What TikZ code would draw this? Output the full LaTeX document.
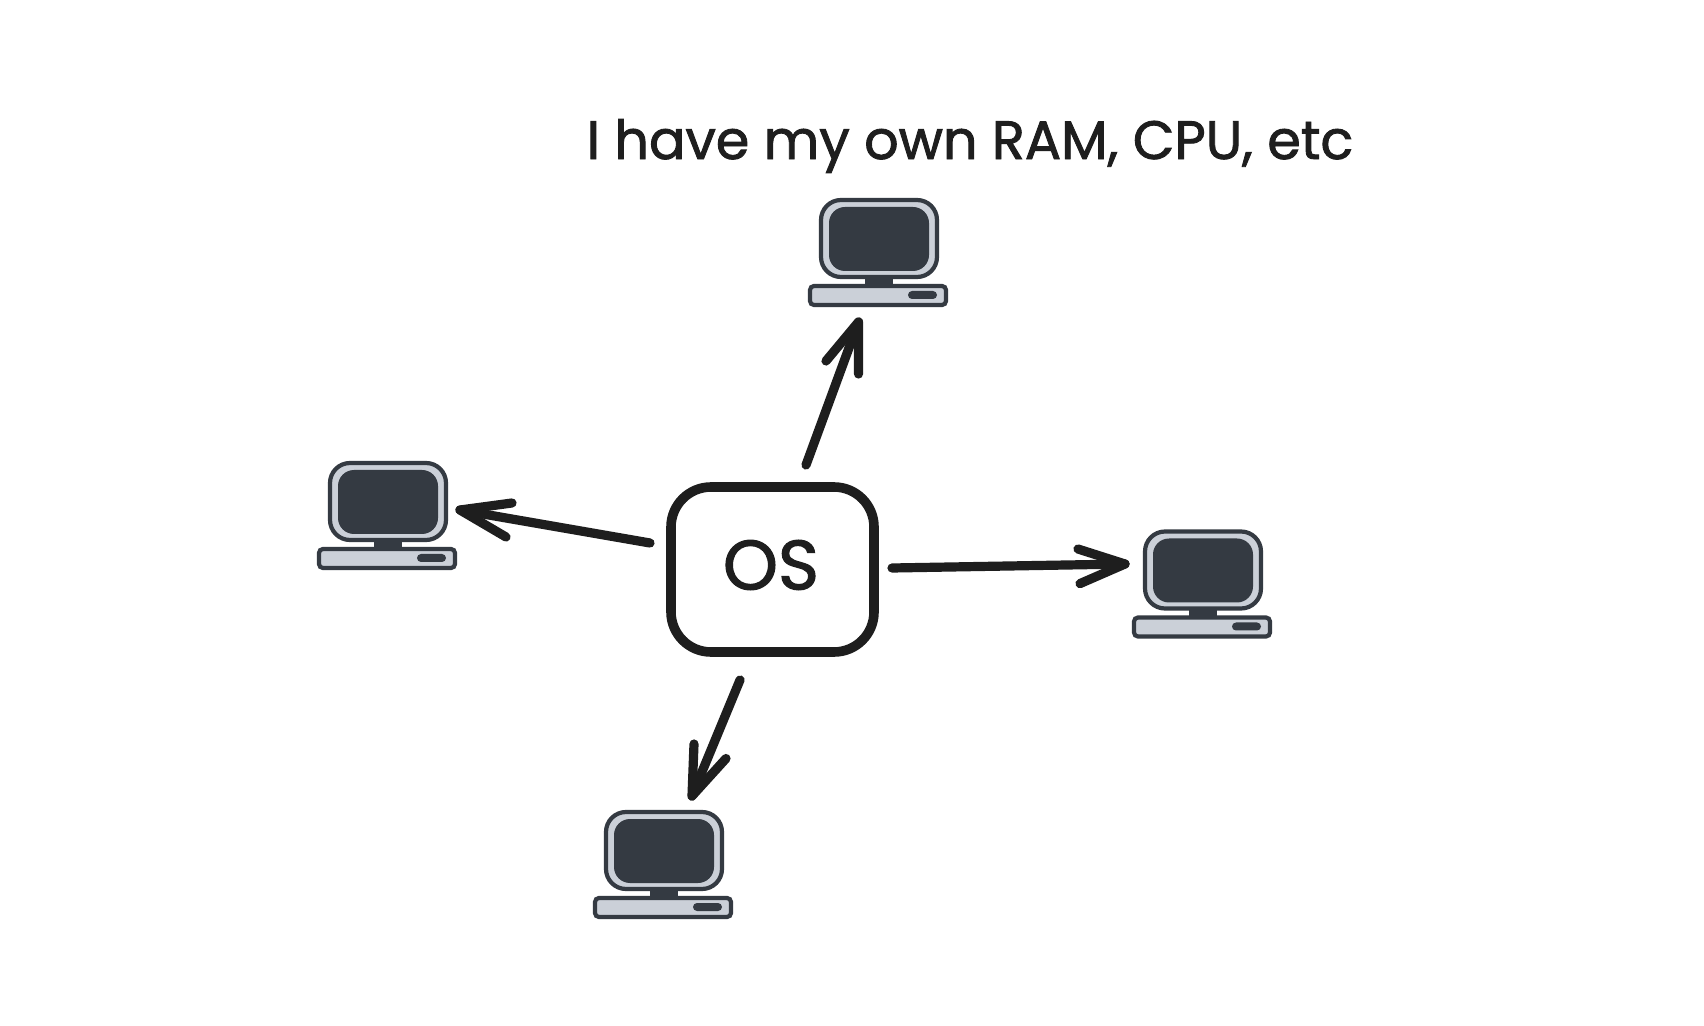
\documentclass[tikz,border=0pt]{standalone}
\usepackage{fontspec}
\setmainfont{Poppins}[FakeBold=1.6]
\definecolor{ink}{HTML}{1E1E1E}
\definecolor{slate}{HTML}{343A42}
\definecolor{silver}{HTML}{CBD0D8}
\tikzset{
  unit/.style={x=0.5pt,y=-0.5pt},
  shell/.style={draw=slate,line width=2.1pt,fill=silver,inner sep=0pt,rounded corners=10pt,minimum width=58pt,minimum height=38.5pt},
  glass/.style={fill=slate,inner sep=0pt,rounded corners=8pt,minimum width=50pt,minimum height=32pt},
  stand/.style={fill=slate,inner sep=0pt,minimum width=14pt,minimum height=4pt},
  deck/.style={draw=slate,line width=2.1pt,fill=silver,inner sep=0pt,rounded corners=2pt,minimum width=68pt,minimum height=9.5pt},
  drive/.style={fill=slate,inner sep=0pt,rounded corners=2pt,minimum width=14.5pt,minimum height=4pt},
  kernel/.style={draw=ink,line width=4.8pt,fill=white,rounded corners=20pt,minimum width=101.5pt,minimum height=82.5pt,inner sep=0pt},
  link/.style={draw=ink,line width=4.6pt,line cap=round,line join=round},
  caption/.style={text=ink,inner sep=0pt},
  computer/.pic={
    \node[stand] (-neck) at (0,43.5) {};
    \node[shell] (-monitor) at (0,0) {};
    \node[glass] (-screen) at (0,0.5) {};
    \node[deck] (-base) at (-1,57) {};
    \node[drive] (-slot) at (43.5,56.5) {};
  }
}
\begin{document}
\begin{tikzpicture}[unit]
  \useasboundingbox[fill=white] (0,0) rectangle (1704,1026);

  % central operating system box
  \node[kernel] (os) at (772.5,569.5) {};
  \node[caption,font=\fontsize{35}{35}\selectfont] (oslabel) at (771,565) {OS};

  % the four machines
  \pic (top) at (879,238.5) {computer};
  \pic (left) at (388,501.5) {computer};
  \pic (right) at (1203,570) {computer};
  \pic (bottom) at (664,850.5) {computer};

  \node[caption,font=\fontsize{27}{27}\selectfont] (note) at (970,146) {I have my own RAM, CPU, etc};

  % connector ends and arrowhead barbs
  \coordinate (topTail) at (806,465);
  \coordinate (topHead) at (858.5,322);
  \coordinate (topBarbA) at (826,361);
  \coordinate (topBarbB) at (858.5,374);
  \coordinate (leftTail) at (650,543);
  \coordinate (leftHead) at (460,510);
  \coordinate (leftBarbA) at (512,503);
  \coordinate (leftBarbB) at (506,537);
  \coordinate (rightTail) at (892,568);
  \coordinate (rightHead) at (1125,564);
  \coordinate (rightBarbA) at (1078,549);
  \coordinate (rightBarbB) at (1080,583.6);
  \coordinate (bottomTail) at (740,680);
  \coordinate (bottomHead) at (692,796);
  \coordinate (bottomBarbA) at (694,744);
  \coordinate (bottomBarbB) at (726,758.5);

  \foreach \dir in {top,left,right,bottom}{
    \draw[link] (\dir Tail) -- (\dir Head);
    \draw[link] (\dir BarbA) -- (\dir Head) -- (\dir BarbB);
  }
\end{tikzpicture}
\end{document}
